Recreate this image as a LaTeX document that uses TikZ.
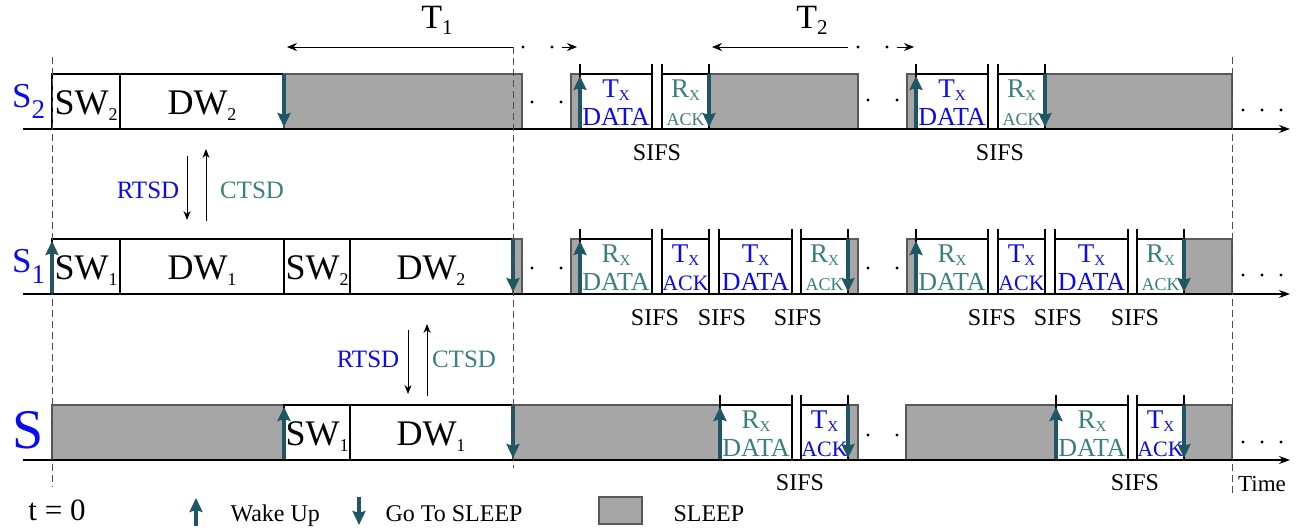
\documentclass[tikz,border=0pt]{standalone}
\usepackage{fontspec}
\setmainfont{Liberation Serif}
\usepackage{tikz}
\usetikzlibrary{arrows.meta,positioning,calc}
\definecolor{TxBlue}{RGB}{10,10,240}
\definecolor{RxTeal}{RGB}{58,128,126}
\definecolor{ArrTeal}{RGB}{30,86,102}
\definecolor{SleepGray}{RGB}{166,166,166}
\newcommand{\fsz}[1]{\fontsize{#1}{#1}\selectfont}
\newcommand{\sub}[2][18]{\raisebox{-6pt}{\fsz{#1}#2}}
% one Tx/Rx slot: name, x1, x2, top, colour style, letter, lower text, lower size
\newcommand{\slot}[8]{%
  \draw[fbox] (#2,#4) rectangle (#3,#4+55);
  \draw[tick] (#2,#4-10) -- (#2,#4+55) (#3,#4-10) -- (#3,#4+55);
  \node[#5,font=\fsz{27},anchor=base] (#1u) at ({(#2+#3)/2},#4+23) {#6\raisebox{-3pt}{\fsz{15}X}};
  \node[#5,font=\fsz{#8},anchor=base] (#1l) at ({(#2+#3)/2},#4+51) {#7};
}
\tikzset{
  sleepbox/.style={fill=SleepGray,draw=black!65,line width=1.2pt},
  fbox/.style={draw=black,fill=white,line width=1.3pt},
  tick/.style={draw=black,line width=1.2pt},
  axis/.style={-{Stealth[length=11pt,width=8pt]},line width=1.1pt},
  wake/.style={-{Stealth[length=14pt,width=13pt,inset=2pt]},line width=3.3pt,ArrTeal},
  span/.style={line width=0.9pt},
  sig/.style={-{Stealth[length=9pt,width=7pt]},line width=1pt},
  tline/.style={dash pattern=on 7pt off 4pt,line width=1pt,black!70},
  big/.style={font=\fsz{36}},
  tx/.style={TxBlue},
  rx/.style={RxTeal},
}
\begin{document}
\begin{tikzpicture}[x=1pt,y=-1pt,font=\fsz{24}]
  \useasboundingbox (0,0) rectangle (1308,531);

  % periods
  \node[font=\fsz{34},anchor=base] (T1) at (437,28) {T\sub[21]{1}};
  \node[font=\fsz{34},anchor=base] (T2) at (812,28) {T\sub[21]{2}};
  \draw[span,{Stealth[length=10pt,width=8pt]}-] (287,47) -- (513,47);
  \draw[span,-{Stealth[length=10pt,width=8pt]}] (562,47) -- (577,47);
  \draw[span,{Stealth[length=10pt,width=8pt]}-] (712,47) -- (848,47);
  \draw[span,-{Stealth[length=10pt,width=8pt]}] (897,47) -- (914,47);
  \foreach \x in {523,552,858,887} \fill (\x,47) circle[radius=1.6pt];

  % row labels
  \node[TxBlue,anchor=base west,inner sep=0pt] (s2) at (12,107) {\fsz{35}S\raisebox{-11pt}{\fsz{27}2}};
  \node[TxBlue,anchor=base west,inner sep=0pt] (s1) at (12,272) {\fsz{35}S\raisebox{-11pt}{\fsz{27}1}};
  \node[TxBlue,anchor=base west,inner sep=0pt] (s0) at (12,448) {\fsz{56}S};

  % S2 row
  \draw[fbox] (52,74) rectangle (120,129);
  \draw[fbox] (120,74) rectangle (284,129);
  \node[big,anchor=base] (sw2a) at (86,114) {SW\sub{2}};
  \node[big,anchor=base] (dw2a) at (202,114) {DW\sub{2}};
  \draw[sleepbox] (284,74) rectangle (522,129);
  \draw[sleepbox] (709,74) rectangle (858,129);
  \draw[sleepbox] (1045,74) rectangle (1232,129);
  \foreach \o in {0,336} {
    \begin{scope}[xshift=\o]
      \draw[sleepbox] (571,74) rectangle (580,129);
      \slot{td\o}{580}{652}{74}{tx}{T}{DATA}{26}
      \slot{ra\o}{662}{709}{74}{rx}{R}{ACK}{18}
      \draw[wake] (580,129) -- (580,76);
      \draw[wake] (709,74) -- (709,127);
    \end{scope}}
  \draw[wake] (284,74) -- (284,127);

  % S1 row
  \draw[fbox] (52,239) rectangle (120,294);
  \draw[fbox] (120,239) rectangle (284,294);
  \draw[fbox] (284,239) rectangle (350,294);
  \draw[fbox] (350,239) rectangle (513,294);
  \node[big,anchor=base] (sw1b) at (86,279) {SW\sub{1}};
  \node[big,anchor=base] (dw1b) at (202,279) {DW\sub{1}};
  \node[big,anchor=base] (sw2b) at (317,279) {SW\sub{2}};
  \node[big,anchor=base] (dw2b) at (431,279) {DW\sub{2}};
  \draw[sleepbox] (513,239) rectangle (522,294);
  \draw[sleepbox] (848,239) rectangle (858,294);
  \draw[sleepbox] (1184,239) rectangle (1232,294);
  \foreach \o in {0,336} {
    \begin{scope}[xshift=\o]
      \draw[sleepbox] (571,239) rectangle (580,294);
      \slot{rd\o}{580}{652}{239}{rx}{R}{DATA}{26}
      \slot{ta\o}{662}{709}{239}{tx}{T}{ACK}{22}
      \slot{tdd\o}{719}{792}{239}{tx}{T}{DATA}{26}
      \slot{raa\o}{801}{848}{239}{rx}{R}{ACK}{18}
      \draw[wake] (580,294) -- (580,241);
      \draw[wake] (848,239) -- (848,292);
    \end{scope}}
  \draw[wake] (52,294) -- (52,241);
  \draw[wake] (513,239) -- (513,292);

  % S row
  \draw[sleepbox] (52,405) rectangle (284,460);
  \draw[fbox] (284,405) rectangle (350,460);
  \draw[fbox] (350,405) rectangle (513,460);
  \node[big,anchor=base] (sw1c) at (317,445) {SW\sub{1}};
  \node[big,anchor=base] (dw1c) at (431,445) {DW\sub{1}};
  \draw[sleepbox] (513,405) rectangle (720,460);
  \draw[sleepbox] (848,405) rectangle (858,460);
  \draw[sleepbox] (906,405) rectangle (1056,460);
  \draw[sleepbox] (1184,405) rectangle (1232,460);
  \foreach \o in {0,336} {
    \begin{scope}[xshift=\o]
      \slot{rdc\o}{720}{792}{405}{rx}{R}{DATA}{26}
      \slot{tac\o}{801}{848}{405}{tx}{T}{ACK}{22}
      \draw[wake] (720,460) -- (720,407);
      \draw[wake] (848,405) -- (848,458);
    \end{scope}}
  \draw[wake] (284,460) -- (284,407);
  \draw[wake] (513,405) -- (513,458);

  % time axes
  \foreach \y in {129,294,460} \draw[axis] (23,\y) -- (1290,\y);
  \draw[tline] (52,57) -- (52,487);
  \draw[tline] (513,47) -- (513,468);
  \draw[tline] (1232,57) -- (1232,495);

  % dots
  \foreach \x/\y in {532/102,561/102,868/100,897/100,1243/110,1262/110,1281/110,
                     532/268,561/268,868/268,897/268,1243/275,1262/275,1281/275,
                     868/435,897/435,1243/442,1262/442,1281/442}
    \fill (\x,\y) circle[radius=1.6pt];

  % SIFS
  \foreach \x/\y [count=\i] in {657/153,1000/153,655/318,722/318,798/318,
                                992/318,1058/318,1135/318,800/483,1135/483}
    \node[font=\fsz{24}] (sifs\i) at (\x,\y) {SIFS};

  % RTS / CTS
  \node[TxBlue,font=\fsz{25}] (rts1) at (148,190) {RTSD};
  \node[RxTeal,font=\fsz{25}] (cts1) at (252,190) {CTSD};
  \draw[sig] (187,156) -- (187,220);
  \draw[sig] (206,221) -- (206,149);
  \node[TxBlue,font=\fsz{25}] (rts2) at (368,359) {RTSD};
  \node[RxTeal,font=\fsz{25}] (cts2) at (464,359) {CTSD};
  \draw[sig] (408,330) -- (408,394);
  \draw[sig] (427,396) -- (427,324);

  % legend
  \node[font=\fsz{31},anchor=base] (t0) at (57,520) {t = 0};
  \draw[wake] (196,526) -- (196,498);
  \node[anchor=base west] (wk) at (227,521) {Wake Up};
  \draw[wake] (359,497) -- (359,525);
  \node[anchor=base west] (gs) at (382,521) {Go To SLEEP};
  \draw[sleepbox] (599,497) rectangle (642,524);
  \node[anchor=base west] (sl) at (670,521) {SLEEP};
  \node[font=\fsz{23},anchor=base] (tm) at (1262,491) {Time};
\end{tikzpicture}
\end{document}
